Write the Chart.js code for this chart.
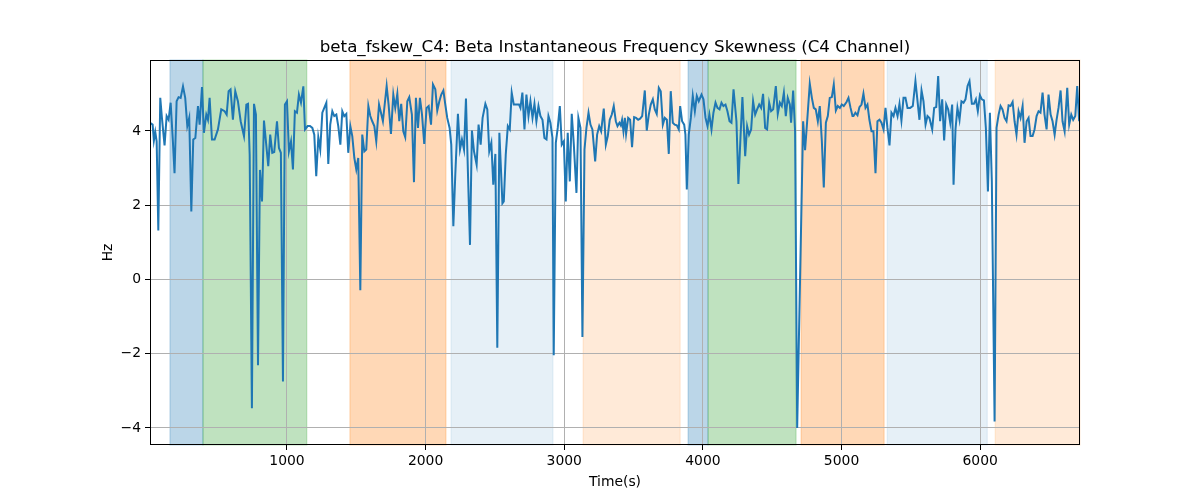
<!DOCTYPE html>
<html>
<head>
<meta charset="utf-8">
<title>beta_fskew_C4</title>
<script src="https://cdn.jsdelivr.net/npm/chart.js@4.4.1/dist/chart.umd.min.js"></script>
<style>
  body { margin: 0; background: #fff; }
  #wrap { width: 1200px; height: 500px; }
</style>
</head>
<body>
<div id="wrap"><canvas id="fskewChart" width="1200" height="500"></canvas></div>
<script>
// Time stamps (s) and skewness values (Hz)
const times = [
  12, 31, 40, 50, 60, 72, 86, 98, 117, 132, 146, 161, 177, 189, 204, 218, 233, 250, 266, 281,
  295, 310, 324, 339, 358, 370, 387, 401, 418, 430, 442, 459, 478, 502, 526, 550, 565, 579, 593, 610,
  627, 646, 666, 690, 707, 719, 731, 747, 762, 776, 791, 805, 820, 834,
  865, 879, 894, 908, 928, 942, 956, 971, 985, 1000, 1014, 1029, 1043, 1057, 1072, 1086, 1101, 1118, 1130, 1149,
  1166, 1183, 1197, 1211, 1226, 1240, 1255, 1269, 1284, 1298, 1312, 1327, 1341, 1356, 1370, 1385, 1399, 1413, 1428, 1442,
  1457, 1471, 1486, 1500, 1514, 1529, 1543, 1558, 1572, 1587, 1601, 1615, 1630, 1644, 1664, 1678, 1692,
  1719, 1733, 1750, 1767, 1781, 1796, 1810, 1824, 1839, 1853, 1868, 1882, 1901, 1916, 1930, 1945, 1959, 1974, 1990, 2007,
  2022, 2039, 2053, 2070, 2084, 2099, 2113, 2128, 2142, 2156, 2173, 2185, 2200, 2214, 2233, 2248, 2262, 2277, 2291, 2305,
  2320, 2334, 2349, 2368, 2382, 2397, 2411, 2431, 2445, 2459, 2474, 2488, 2503, 2517, 2532,
  2554, 2564, 2578, 2593, 2607, 2621, 2636, 2655, 2674, 2684, 2698, 2713, 2727, 2742, 2756, 2771, 2785, 2799, 2814, 2828,
  2843, 2857, 2872, 2886, 2900, 2915, 2924, 2939, 2953, 2968, 2982, 2997, 3011, 3025, 3040, 3054, 3069, 3088, 3102, 3117,
  3131, 3146, 3160, 3175, 3189, 3203, 3223, 3237, 3252, 3266, 3285, 3300, 3314, 3328, 3343, 3357, 3372,
  3384, 3398, 3408, 3417, 3427, 3437, 3446, 3461, 3475, 3489, 3504, 3518, 3533, 3547, 3562, 3581, 3595, 3610, 3624, 3639,
  3653, 3667, 3682, 3696, 3711, 3725, 3740, 3754, 3768, 3783, 3797, 3812, 3826, 3836, 3850, 3865, 3874, 3884, 3898, 3913,
  3927, 3942, 3956, 3970, 3990, 4004, 4019, 4033, 4047, 4062, 4076, 4091, 4105, 4120, 4134, 4148, 4163, 4177, 4192, 4206, 4221,
  4242, 4256, 4271, 4285, 4305, 4319, 4333, 4348, 4362, 4377, 4391, 4406, 4420, 4434, 4449, 4463, 4478, 4492, 4507, 4526,
  4540, 4555, 4569, 4584, 4598, 4612, 4627, 4636, 4651, 4665, 4680, 4723, 4737, 4752, 4771, 4786, 4800, 4814, 4829, 4843,
  4858, 4872, 4887, 4901, 4915, 4930, 4944, 4959, 4973, 4988, 5002, 5016, 5036, 5050, 5065, 5079,
  5086, 5100, 5115, 5129, 5144, 5158, 5173, 5187, 5201, 5216, 5230, 5245, 5259, 5274, 5288, 5303, 5317, 5331, 5346, 5360,
  5375, 5389, 5404, 5418, 5432, 5447, 5461, 5476, 5495, 5514, 5533, 5548, 5562, 5577, 5591, 5606, 5620, 5634, 5654, 5668,
  5683, 5697, 5711, 5726, 5740, 5755, 5769, 5784, 5798, 5808, 5822, 5836, 5851, 5865, 5880, 5894, 5909, 5923,
  5940, 5955, 5969, 5983, 5998, 6012, 6027, 6041, 6056, 6070, 6084, 6104, 6118, 6133, 6147, 6161, 6176, 6190, 6205, 6219,
  6234, 6248, 6262, 6277, 6291, 6306, 6320, 6335, 6349, 6363, 6378, 6392, 6407, 6421, 6435, 6450, 6464, 6479, 6493, 6508,
  6522, 6537, 6551, 6565, 6580, 6594, 6609, 6628, 6642, 6657, 6671, 6686, 6700, 6714, 6720
];
const skew = [
  4.22, 4.17, 3.74, 3.97, 3.72, 1.32, 4.89, 4.35, 3.61, 4.40, 4.30, 4.76, 3.72, 2.86, 4.80, 4.91, 4.89, 5.20, 4.89, 4.13,
  4.35, 1.83, 3.77, 3.81, 4.67, 4.17, 5.18, 3.95, 4.44, 4.30, 4.89, 3.77, 3.77, 4.04, 4.58, 4.53, 4.44, 5.07, 5.12, 4.30,
  5.07, 4.80, 4.26, 3.86, 4.71, 4.73, 3.36, -3.47, 4.73, 4.44, -2.31, 2.95, 2.10, 4.28,
  3.05, 3.90, 3.41, 3.43, 4.26, 3.54, 3.41, -2.75, 4.71, 4.80, 3.45, 3.72, 2.96, 4.53, 4.49, 4.98, 4.76, 5.20, 4.04, 4.13,
  4.13, 4.08, 3.90, 2.78, 3.83, 3.50, 4.49, 4.62, 4.76, 3.11, 4.17, 4.53, 4.40, 4.44, 4.13, 3.63, 4.53, 4.40, 4.46, 3.41,
  4.13, 3.86, 3.27, 2.96, 3.27, -0.29, 3.90, 3.45, 3.50, 4.67, 4.40, 4.26, 4.13, 3.72, 4.71, 4.49, 4.26,
  5.21, 4.71, 3.92, 4.98, 4.62, 5.00, 4.26, 4.73, 3.99, 3.83, 4.80, 4.91, 4.44, 2.62, 4.89, 4.08, 4.89, 4.44, 3.65, 4.62,
  4.67, 4.17, 5.25, 5.12, 4.55, 4.80, 4.98, 5.09, 4.71, 4.35, 4.08, 3.63, 1.43, 2.82, 4.46, 3.50, 3.77, 3.50, 4.87, 2.91,
  0.93, 4.01, 3.45, 3.09, 4.17, 3.63, 4.35, 4.73, 4.58, 3.45, 3.68, 2.55, 3.38, -1.84, 3.95,
  2.05, 2.10, 3.36, 4.13, 4.04, 5.03, 4.71, 4.71, 4.71, 4.62, 5.03, 4.04, 4.98, 4.40, 4.80, 4.35, 4.73, 4.26, 4.67, 4.40,
  4.30, 3.81, 3.77, 4.40, 4.22, 3.81, -2.04, 3.68, 4.08, 4.67, 3.63, 3.72, 2.10, 3.95, 2.64, 4.46, 3.63, 2.33, 4.35, 4.08,
  -1.55, 3.50, 4.08, 4.49, 4.17, 4.04, 3.18, 3.90, 4.13, 3.99, 4.60, 3.63, 3.86, 4.30, 4.44, 4.67, 4.26,
  4.13, 4.22, 4.15, 4.30, 3.99, 4.35, 3.92, 4.35, 4.30, 3.56, 4.37, 4.35, 4.30, 4.33, 4.40, 5.09, 4.01, 4.44, 4.71, 4.85,
  4.58, 4.46, 5.16, 5.07, 4.17, 4.35, 4.30, 3.38, 5.07, 4.22, 4.17, 4.15, 4.04, 4.67, 4.26, 4.17, 3.90, 2.42, 3.90, 4.35,
  4.94, 4.53, 4.94, 4.80, 4.98, 4.85, 4.35, 4.13, 4.44, 4.04, 4.49, 4.76, 4.62, 4.58, 4.76, 4.67, 4.71, 4.53, 4.26, 4.22, 5.12,
  4.26, 2.57, 3.81, 4.91, 3.32, 4.13, 3.90, 4.04, 4.80, 4.44, 4.58, 4.71, 4.62, 5.00, 4.08, 4.04, 4.76, 4.53, 4.58, 5.21,
  4.46, 4.76, 4.67, 5.03, 4.40, 4.89, 4.71, 4.22, 5.09, 3.99, -4.00, 4.26, 3.48, 4.26, 5.27, 4.89, 4.62, 4.58, 4.26, 4.67,
  3.72, 2.48, 4.22, 4.40, 4.89, 4.91, 5.25, 4.55, 4.67, 4.62, 4.71, 4.67, 4.78, 4.89, 4.62, 4.40,
  4.40, 4.49, 4.42, 4.64, 4.71, 5.00, 4.62, 4.71, 4.30, 3.99, 3.99, 2.86, 4.26, 4.30, 4.22, 4.04, 4.62, 4.08, 3.61, 4.49,
  4.40, 4.62, 4.40, 4.73, 4.28, 4.89, 4.89, 4.62, 4.62, 4.67, 5.34, 4.80, 4.30, 5.09, 4.80, 4.17, 4.40, 4.35, 4.04, 4.62,
  4.64, 5.48, 4.26, 4.85, 3.74, 4.71, 4.58, 4.22, 4.71, 2.55, 4.04, 4.62, 4.30, 4.80, 4.76, 4.85, 5.21, 5.34,
  4.73, 4.73, 4.85, 4.53, 4.96, 4.85, 4.82, 4.08, 2.37, 4.49, 2.64, -3.83, 4.08, 4.44, 4.67, 4.58, 4.35, 4.26, 4.69, 4.67,
  4.78, 4.26, 3.90, 4.53, 4.35, 4.67, 3.68, 4.26, 4.35, 3.86, 3.86, 4.04, 4.40, 4.53, 4.49, 5.03, 4.44, 4.04, 4.98, 4.44,
  4.26, 3.90, 4.30, 4.62, 5.09, 4.26, 3.99, 5.16, 4.17, 4.44, 4.30, 4.40, 5.21, 4.26, 4.67
];

// Shaded segments (start, end in s) and their fills
const spanStarts = [156, 394, 1454, 2183, 3136, 3893, 4037, 4708, 5329, 6108];
const spanEnds   = [394, 1143, 2147, 2919, 3836, 4037, 4672, 5307, 6051, 6720];
const spanColors = [
  'rgba(31,119,180,0.3)', 'rgba(44,160,44,0.3)', 'rgba(255,127,14,0.3)', 'rgba(31,119,180,0.11)', 'rgba(255,127,14,0.16)',
  'rgba(31,119,180,0.3)', 'rgba(44,160,44,0.3)', 'rgba(255,127,14,0.3)', 'rgba(31,119,180,0.11)', 'rgba(255,127,14,0.16)'
];

const xTicks = [1000, 2000, 3000, 4000, 5000, 6000];
const yTicks = [-4, -2, 0, 2, 4];

const points = times.map((t, i) => ({ x: t, y: skew[i] }));
const fmt = v => String(v).replace('-', '\u2212');
const FONT = 'DejaVu Sans';

// spans go under the grid, like matplotlib's axvspan
const spanPlugin = {
  id: 'spans',
  beforeDraw(chart) {
    const { ctx, chartArea, scales } = chart;
    ctx.save();
    for (let i = 0; i < spanStarts.length; i++) {
      const x0 = scales.x.getPixelForValue(spanStarts[i]);
      const x1 = Math.min(scales.x.getPixelForValue(spanEnds[i]), chartArea.right);
      ctx.fillStyle = spanColors[i];
      ctx.fillRect(x0, chartArea.top, x1 - x0, chartArea.bottom - chartArea.top);
      ctx.strokeStyle = spanColors[i];
      ctx.lineWidth = 1;
      ctx.strokeRect(x0, chartArea.top, x1 - x0, chartArea.bottom - chartArea.top);
    }
    ctx.restore();
  }
};

// frame, title and axis labels
const textPlugin = {
  id: 'texts',
  afterDraw(chart) {
    const { ctx, chartArea } = chart;
    const cx = (chartArea.left + chartArea.right) / 2;
    ctx.save();
    ctx.strokeStyle = '#000';
    ctx.lineWidth = 1;
    ctx.strokeRect(chartArea.left + 0.5, chartArea.top + 0.5,
      chartArea.right - chartArea.left - 1, chartArea.bottom - chartArea.top - 1);
    ctx.fillStyle = '#000';
    ctx.textAlign = 'center';
    ctx.textBaseline = 'alphabetic';
    ctx.font = '16.7px "' + FONT + '"';
    ctx.fillText('beta_fskew_C4: Beta Instantaneous Frequency Skewness (C4 Channel)', cx, chartArea.top - 8);
    ctx.font = '13.9px "' + FONT + '"';
    ctx.fillText('Time(s)', cx, 486);
    ctx.translate(112, (chartArea.top + chartArea.bottom) / 2);
    ctx.rotate(-Math.PI / 2);
    ctx.fillText('Hz', 0, 0);
    ctx.restore();
  }
};

new Chart(document.getElementById('fskewChart'), {
  type: 'line',
  data: {
    datasets: [{
      data: points,
      borderColor: '#1f77b4',
      borderWidth: 2,
      pointRadius: 0,
      tension: 0,
      fill: false
    }]
  },
  options: {
    responsive: false,
    animation: false,
    devicePixelRatio: 1,
    layout: { padding: { top: 60, right: 120, left: 0, bottom: 0 } },
    plugins: { legend: { display: false }, title: { display: false }, tooltip: { enabled: false } },
    scales: {
      x: {
        type: 'linear',
        min: 12,
        max: 6720,
        afterBuildTicks: s => { s.ticks = xTicks.map(v => ({ value: v })); },
        afterFit: s => { s.height = 55; },
        grid: { color: '#b0b0b0', lineWidth: 1, tickColor: '#000', tickLength: 5 },
        border: { display: false },
        ticks: { color: '#000', font: { family: FONT, size: 13.9 }, padding: 3, maxRotation: 0, callback: v => fmt(v) }
      },
      y: {
        min: -4.46,
        max: 5.91,
        afterBuildTicks: s => { s.ticks = yTicks.map(v => ({ value: v })); },
        afterFit: s => { s.width = 150; },
        grid: { color: '#b0b0b0', lineWidth: 1, tickColor: '#000', tickLength: 5 },
        border: { display: false },
        ticks: { color: '#000', font: { family: FONT, size: 13.9 }, padding: 4, callback: v => fmt(v) }
      }
    }
  },
  plugins: [spanPlugin, textPlugin]
});
</script>
</body>
</html>
